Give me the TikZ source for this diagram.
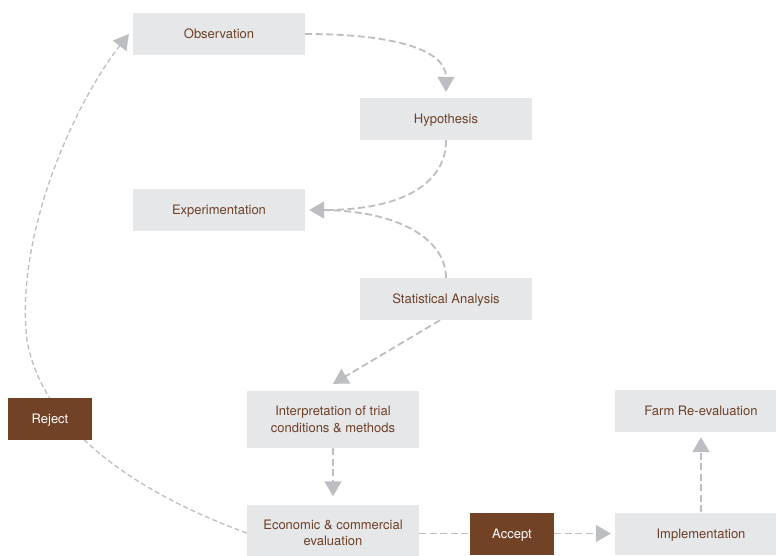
\documentclass[tikz,border=0pt]{standalone}
\usepackage{fontspec}
\setmainfont{TeX Gyre Heros}
\usetikzlibrary{arrows.meta,backgrounds}
\definecolor{boxgray}{HTML}{E6E7E8}
\definecolor{txtbrown}{HTML}{6E4027}
\definecolor{boxbrown}{HTML}{714226}
\definecolor{arrgray}{HTML}{BDBEC1}
\begin{document}
\begin{tikzpicture}[x=1pt,y=-1pt,
  stepbox/.style={fill=boxgray, text=txtbrown, minimum width=172pt, minimum height=42pt, inner sep=0pt, align=center, font=\fontsize{13}{16.5}\selectfont},
  oneline/.style={text height=9.4pt, text depth=0pt},
  decbox/.style={fill=boxbrown, text=white, minimum width=84pt, minimum height=42pt, inner sep=0pt, align=center, font=\fontsize{13}{16.5}\selectfont},
  conn/.style={draw=arrgray, line width=1.8pt, dash pattern=on 7pt off 3.5pt},
  arcconn/.style={draw=arrgray, line width=1.3pt, dash pattern=on 5pt off 3pt},
  tipend/.style={-{Triangle[width=17pt,length=15pt]}},
]
\useasboundingbox (0,0) rectangle (776,555);
\clip (0,0) rectangle (776,555);
\node[stepbox,oneline] (obs) at (219,34) {Observation};
\node[stepbox,oneline] (hyp) at (446,119) {Hypothesis};
\node[stepbox,oneline] (exp) at (219,210) {Experimentation};
\node[stepbox,oneline] (stat) at (446,299) {Statistical Analysis};
\node[stepbox, minimum height=57pt] (interp) at (333,419.5) {Interpretation of trial\\conditions \& methods};
\node[stepbox, minimum height=57pt] (econ) at (333,533) {Economic \& commercial\\evaluation};
\node[decbox,oneline] (reject) at (50,419) {Reject};
\node[decbox,oneline] (accept) at (512,533.5) {Accept};
\node[stepbox,oneline] (farm) at (701,411) {Farm Re-evaluation};
\node[stepbox,oneline] (impl) at (701,533.5) {Implementation};
\begin{pgfonlayer}{background}
\fill[white] (0,0) rectangle (776,555);
\draw[conn,tipend] (obs.east) .. controls (395,34) and (446,50) .. ([yshift=6pt]hyp.north);
\draw[conn,tipend] (hyp.south) .. controls (446,185) and (400,210) .. ([xshift=4pt]exp.east);
\draw[conn] (stat.north) .. controls (446,240) and (400,210) .. ([xshift=14pt]exp.east);
\draw[conn,tipend] ([xshift=-6pt]stat.south) -- ([yshift=7pt]interp.north);
\draw[conn,tipend] (interp.south) -- ([yshift=8pt]econ.north);
\draw[conn] (accept.west -| econ.east) -- (accept.west);
\draw[conn,tipend] (accept.east) -- ([xshift=-4pt]impl.west);
\draw[conn,tipend] (impl.north) -- ([yshift=-5pt]farm.south);
\draw[arcconn,tipend] (econ.west) .. controls (170,505) and (45,445) .. (27,340) .. controls (15,240) and (70,110) .. ([xshift=-4pt]obs.west);
\end{pgfonlayer}
\end{tikzpicture}
\end{document}
